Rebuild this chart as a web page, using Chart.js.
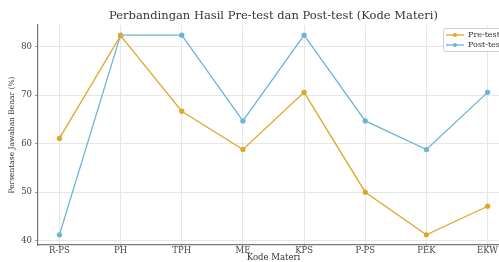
<!DOCTYPE html>
<html>
<head>
<meta charset="utf-8">
<script src="https://cdn.jsdelivr.net/npm/chart.js@4"></script>
<style>
	html, body { margin: 0; padding: 0; overflow: hidden; background: #fff; }
	#wrap { width: 499px; height: 262px; overflow: hidden; }
</style>
</head>
<body>
<div id="wrap"><canvas id="cmp" width="520" height="262"></canvas></div>
<script>
const categories = ["R-PS", "PH", "TPH", "ME", "KPS", "P-PS", "PEK", "EKW"];
const preTest = [61.1, 82.3, 66.7, 58.8, 70.6, 50.0, 41.2, 47.1];
const postTest = [41.2, 82.4, 82.4, 64.7, 82.4, 64.7, 58.8, 70.6];
const yTicks = [40, 50, 60, 70, 80];
const chartTitle = "Perbandingan Hasil Pre-test dan Post-test (Kode Materi)";

const serif = "'DejaVu Serif', serif";

function points(values) {
	return values.map(function (v, i) { return { x: i, y: v }; });
}

// title centred over the plot area, like matplotlib does
const plotTitle = {
	id: "plotTitle",
	afterDraw: function (chart) {
		const ctx = chart.ctx;
		const a = chart.chartArea;
		ctx.save();
		ctx.fillStyle = "#333";
		ctx.font = "11.5px " + serif;
		ctx.textAlign = "center";
		ctx.textBaseline = "middle";
		ctx.fillText(chartTitle, (a.left + a.right) / 2, 16.5);
		ctx.restore();
	}
};

// legend drawn inside the plot, top right
const innerLegend = {
	id: "innerLegend",
	afterDraw: function (chart) {
		const ctx = chart.ctx;
		const x0 = 443, y0 = 28;
		ctx.save();
		ctx.fillStyle = "rgba(255,255,255,0.9)";
		ctx.strokeStyle = "#d0d0d0";
		ctx.lineWidth = 1;
		ctx.beginPath();
		ctx.roundRect(x0 + 0.5, y0 + 0.5, 70, 23, 2);
		ctx.fill();
		ctx.stroke();
		chart.data.datasets.forEach(function (ds, i) {
			const y = y0 + 7 + i * 10;
			ctx.strokeStyle = ds.borderColor;
			ctx.lineWidth = 1.3;
			ctx.beginPath();
			ctx.moveTo(x0 + 3, y);
			ctx.lineTo(x0 + 21, y);
			ctx.stroke();
			ctx.fillStyle = ds.borderColor;
			ctx.beginPath();
			ctx.arc(x0 + 12, y, 2, 0, Math.PI * 2);
			ctx.fill();
			ctx.fillStyle = "#333";
			ctx.font = "8px " + serif;
			ctx.textBaseline = "middle";
			ctx.fillText(ds.label, x0 + 25, y);
		});
		ctx.restore();
	}
};

new Chart(document.getElementById("cmp").getContext("2d"), {
	type: "line",
	data: {
		datasets: [
			{
				label: "Pre-test",
				data: points(preTest),
				borderColor: "#DFA82B",
				backgroundColor: "#DFA82B",
				borderWidth: 1.3,
				pointRadius: 2,
				tension: 0,
			},
			{
				label: "Post-test",
				data: points(postTest),
				borderColor: "#6BB4D7",
				backgroundColor: "#6BB4D7",
				borderWidth: 1.3,
				pointRadius: 2,
				tension: 0,
			},
		],
	},
	options: {
		responsive: false,
		animation: false,
		layout: { padding: { left: 0, right: 11, top: 25, bottom: 0 } },
		plugins: {
			legend: { display: false },
			tooltip: { enabled: false },
			title: { display: false },
		},
		scales: {
			x: {
				type: "linear",
				min: -0.35,
				max: categories.length - 1 + 0.35,
				afterBuildTicks: function (scale) {
					scale.ticks = categories.map(function (c, i) { return { value: i }; });
				},
				afterFit: function (scale) { scale.height = 17; },
				ticks: {
					autoSkip: false,
					maxRotation: 0,
					padding: -1,
					color: "#444",
					font: { family: serif, size: 8.5 },
					callback: function (v) { return categories[v]; },
				},
				grid: { color: "#e6e6e6", tickLength: 2, tickColor: "#999" },
				border: { color: "#777", width: 1.2 },
				title: {
					display: true,
					text: "Kode Materi",
					color: "#333",
					font: { family: serif, size: 8.5 },
					padding: { top: 0, bottom: -1 },
				},
			},
			y: {
				min: 39.1,
				max: 84.5,
				afterBuildTicks: function (scale) {
					scale.ticks = yTicks.map(function (v) { return { value: v }; });
				},
				afterFit: function (scale) { scale.width = 38; },
				ticks: {
					padding: 3,
					color: "#444",
					font: { family: serif, size: 8.5 },
				},
				grid: { color: "#e6e6e6", tickLength: 3, tickColor: "#999" },
				border: { color: "#777", width: 1.2 },
				title: {
					display: true,
					text: "Persentase Jawaban Benar (%)",
					color: "#333",
					font: { family: serif, size: 7.5 },
					padding: { top: 8, bottom: 0 },
				},
			},
		},
	},
	plugins: [plotTitle, innerLegend],
});
</script>
</body>
</html>
